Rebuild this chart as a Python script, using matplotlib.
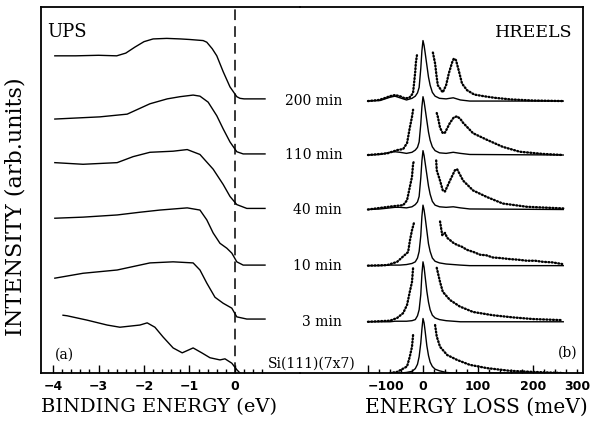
import numpy as np
import matplotlib
matplotlib.use('Agg')
import matplotlib.pyplot as plt

nan = np.nan

# ---- UPS (binding energy in eV, intensity above each curve's baseline) ----
ups_labels = ['clean', '3 min', '10 min', '40 min', '110 min', '200 min']
ups_offsets = [0.0, 0.99, 1.98, 3.02, 4.02, 5.03]

ups_clean_x = [-3.78, -3.69, -3.25, -2.81, -2.53, -2.09, -1.93, -1.76, -1.58, -1.36, -1.16,
               -0.92, -0.73, -0.55, -0.33, -0.22, -0.07, 0.04, 0.11]
ups_clean_y = [1.06, 1.05, 0.97, 0.88, 0.84, 0.88, 0.92, 0.84, 0.66, 0.46, 0.37,
               0.46, 0.37, 0.28, 0.24, 0.26, 0.18, 0.06, 0.0]
ups_3_x = [-3.96, -3.34, -2.59, -1.87, -1.36, -0.92, -0.77, -0.62, -0.44, -0.26, -0.07, 0.04, 0.26, 0.66]
ups_3_y = [0.75, 0.84, 0.90, 1.03, 1.05, 1.03, 0.90, 0.66, 0.40, 0.29, 0.20, 0.04, 0.0, 0.0]
ups_10_x = [-3.96, -3.34, -2.59, -2.09, -1.65, -1.05, -0.77, -0.62, -0.48, -0.33, -0.18, -0.07, 0.04, 0.18, 0.66]
ups_10_y = [0.86, 0.88, 0.92, 0.97, 1.01, 1.05, 1.01, 0.83, 0.59, 0.40, 0.31, 0.22, 0.06, 0.0, 0.0]
ups_40_x = [-3.96, -3.34, -2.59, -2.24, -1.87, -1.36, -1.05, -0.77, -0.48, -0.26, -0.11, 0.04, 0.26, 0.66]
ups_40_y = [0.84, 0.81, 0.84, 0.95, 1.03, 1.05, 1.08, 0.99, 0.72, 0.44, 0.22, 0.07, 0.0, 0.0]
ups_110_x = [-3.96, -2.97, -2.37, -1.87, -1.49, -1.21, -0.92, -0.77, -0.59, -0.40, -0.26, -0.11, 0.04, 0.18, 0.66]
ups_110_y = [0.64, 0.68, 0.73, 0.92, 1.01, 1.05, 1.08, 1.06, 0.95, 0.70, 0.46, 0.22, 0.04, 0.0, 0.0]
ups_200_x = [-3.96, -3.5, -3.0, -2.6, -2.4, -2.2, -2.0, -1.8, -1.5, -1.2, -1.0, -0.7, -0.62,
             -0.5, -0.4, -0.26, -0.11, 0.04, 0.11, 0.2, 0.66]
ups_200_y = [0.79, 0.79, 0.80, 0.79, 0.84, 0.95, 1.05, 1.10, 1.11, 1.10, 1.09, 1.07, 1.04,
             0.92, 0.79, 0.50, 0.22, 0.04, 0.01, 0.0, 0.0]

# ---- HREELS (energy loss in meV) ----
hr_offsets = [0.0, 0.94, 1.97, 3.0, 4.0, 4.99]

# elastic peak, solid lines
solid_x = [-100, -78, -60, -51, -42, -30, -20, -14, -10, -7, -4, -2, 0, 2, 4, 7, 10, 13, 17, 22,
           30, 42, 55, 68, 85, 255]
solid_3 = [0, 0, 0.0, 0.01, 0.01, 0.01, 0.02, 0.04, 0.11, 0.22, 0.50, 0.87, 1.10, 1.00, 0.82, 0.56,
           0.36, 0.22, 0.12, 0.07, 0.04, 0.02, 0.01, 0.0, 0.0, 0.0]
solid_10 = [0, 0, 0.01, 0.01, 0.01, 0.02, 0.04, 0.07, 0.14, 0.26, 0.55, 0.90, 1.11, 1.02, 0.88, 0.64,
            0.40, 0.26, 0.14, 0.08, 0.05, 0.03, 0.02, 0.01, 0.0, 0.0]
solid_40 = [0, 0.01, 0.03, 0.04, 0.04, 0.03, 0.05, 0.09, 0.14, 0.24, 0.58, 0.89, 1.08, 0.99, 0.85, 0.64,
            0.43, 0.28, 0.15, 0.08, 0.05, 0.04, 0.05, 0.03, 0.01, 0.0]
solid_110 = [0, 0.01, 0.05, 0.06, 0.05, 0.03, 0.05, 0.09, 0.14, 0.24, 0.57, 0.88, 1.07, 0.98, 0.84, 0.63,
             0.42, 0.27, 0.15, 0.08, 0.04, 0.03, 0.05, 0.03, 0.01, 0.0]
solid_200 = [0, 0.01, 0.07, 0.09, 0.06, 0.02, 0.05, 0.09, 0.15, 0.25, 0.60, 0.92, 1.11, 1.02, 0.88, 0.66,
             0.44, 0.29, 0.16, 0.09, 0.05, 0.04, 0.06, 0.02, 0.0, 0.0]
solid_clean_x = [-60, -42, -30, -20, -14, -10, -7, -4, -2, 0, 2, 4, 7, 10, 13, 17, 22, 30, 42, 55, 85, 255]
solid_clean = [0, 0, 0.01, 0.03, 0.08, 0.16, 0.30, 0.55, 0.80, 1.00, 0.92, 0.76, 0.50, 0.32, 0.20,
               0.12, 0.07, 0.04, 0.01, 0, 0, 0]

# magnified spectra, dotted (nan = off the top, not drawn)
dot_clean_x = [-60, -47, -29, -24, -20, -18, nan, 22, 25, 31, 44, 62, 85, 116, 158, 200, 253]
dot_clean_y = [0, 0.02, 0.12, 0.30, 0.48, 0.70, nan, 0.88, 0.67, 0.48, 0.33, 0.24, 0.15, 0.09, 0.04, 0.02, 0]
dot_3_x = [-100, -60, -47, -36, -29, -24, -20, -18, nan, 25, 31, 36, 49, 67, 91, 127, 164, 200, 253]
dot_3_y = [0, 0.02, 0.07, 0.16, 0.31, 0.55, 0.73, 0.99, nan, 0.99, 0.73, 0.55, 0.40, 0.28, 0.18, 0.12,
           0.08, 0.05, 0.03]
dot_10_x = [-100, -65, -47, -36, -27, -24, -20, -16, nan, 31, 35, 40, 44, 49, 55, 62, 70, 80, 92, 104,
            115, 127, 140, 158, 172, 189, 204, 218, 235, 253]
dot_10_y = [0, 0.01, 0.07, 0.17, 0.25, 0.45, 0.65, 0.80, nan, 0.81, 0.56, 0.60, 0.51, 0.47, 0.42, 0.38,
            0.35, 0.29, 0.25, 0.20, 0.19, 0.15, 0.14, 0.12, 0.11, 0.09, 0.09, 0.07, 0.06, 0.03]
dot_40_x = [-100, -55, -36, -29, -24, -20, -18, -16, nan, 24, 25, 31, 36, 40, 49, 58, 62, 73, 91, 116,
            145, 189, 255]
dot_40_y = [0, 0.06, 0.08, 0.17, 0.41, 0.60, 0.84, 0.90, nan, 0.90, 0.72, 0.53, 0.35, 0.33, 0.53, 0.72,
            0.74, 0.53, 0.35, 0.23, 0.11, 0.05, 0.02]
dot_110_x = [-100, -65, -47, -36, -29, -27, -24, -20, -18, nan, 25, 27, 31, 36, 40, 49, 56, 62, 68, 73,
             91, 116, 145, 176, 218, 255]
dot_110_y = [0, 0.03, 0.09, 0.11, 0.22, 0.33, 0.50, 0.70, 0.83, nan, 0.77, 0.70, 0.50, 0.40, 0.41, 0.59,
             0.69, 0.71, 0.66, 0.59, 0.40, 0.28, 0.15, 0.06, 0.02, 0]
dot_200_x = [-100, -80, -68, -60, -51, -42, -33, -25, -20, -18, -16, -14, -13, -11, nan, 18, 22, 25, 27,
             33, 36, 42, 47, 53, 56, 60, 65, 71, 80, 93, 110, 130, 160, 200, 255]
dot_200_y = [0, 0.02, 0.06, 0.09, 0.11, 0.09, 0.05, 0.06, 0.12, 0.16, 0.35, 0.55, 0.70, 0.84, nan, 0.89,
             0.69, 0.43, 0.29, 0.20, 0.16, 0.29, 0.51, 0.71, 0.78, 0.75, 0.56, 0.32, 0.20, 0.12, 0.09,
             0.06, 0.03, 0.01, 0]

serif = 'DejaVu Serif'

fig = plt.figure(figsize=(5.91, 4.24), dpi=100)
ax1 = fig.add_axes([41 / 591, 51 / 424, 259 / 591, 366 / 424])
ax2 = fig.add_axes([300 / 591, 51 / 424, 283 / 591, 366 / 424])
# no white axes backgrounds, so text can run from one panel into the other
ax1.patch.set_visible(False)
ax2.patch.set_visible(False)

# UPS panel
ups_x = [ups_clean_x, ups_3_x, ups_10_x, ups_40_x, ups_110_x, ups_200_x]
ups_y = [ups_clean_y, ups_3_y, ups_10_y, ups_40_y, ups_110_y, ups_200_y]
for xs, ys, off in zip(ups_x, ups_y, ups_offsets):
    ax1.plot(xs, np.array(ys) + off, color='black', lw=1.0)
ax1.axvline(0, color='black', lw=1.1, ls=(0, (7, 4)))
ax1.set_xlim(-4.264, 1.429)
ax1.set_ylim(0, 6.716)
ax1.spines['right'].set_visible(False)
ax1.set_xticks([-4, -3, -2, -1, 0])
ax1.set_xticks(np.arange(-4, 0.61, 0.2), minor=True)
ax1.text(-4.12, 6.25, 'UPS', family=serif, fontsize=13, va='center')
ax1.text(-3.96, 0.33, '(a)', family=serif, fontsize=10, va='center')
ax1.text(0.72, 0.18, 'Si(111)(7x7)', family=serif, fontsize=10, va='center', zorder=5)

# HREELS panel
solids = [solid_clean, solid_3, solid_10, solid_40, solid_110, solid_200]
dots_x = [dot_clean_x, dot_3_x, dot_10_x, dot_40_x, dot_110_x, dot_200_x]
dots_y = [dot_clean_y, dot_3_y, dot_10_y, dot_40_y, dot_110_y, dot_200_y]
for i in range(6):
    off = hr_offsets[i]
    sx = solid_clean_x if i == 0 else solid_x
    ax2.plot(sx, np.array(solids[i]) + off, color='black', lw=1.0)
    ax2.plot(dots_x[i], np.array(dots_y[i]) + off, color='black', lw=1.7,
             ls=(0, (0.4, 1.0)), dash_capstyle='round')
    if i > 0:
        ax2.text(-147, off, ups_labels[i], family=serif, fontsize=10, ha='right', va='center')
ax2.set_xlim(-223.6, 290.9)
ax2.set_ylim(0, 6.716)
ax2.spines['left'].set_visible(False)
ax2.set_xticks([-100, 0, 100, 200], labels=['\u2212100', '0', '100', '200'])
ax2.get_xticklabels()[0].set_horizontalalignment('left')
ax2.set_xticks(np.arange(-100, 281, 20), minor=True)
# the 300 label sits right at the edge of the figure
fig.text(590 / 591, 37 / 424, '300', fontsize=9, fontweight='bold', ha='right', va='center')
ax2.text(271, 6.25, 'HREELS', family=serif, fontsize=12.5, ha='right', va='center')
ax2.text(280, 0.37, '(b)', family=serif, fontsize=10, ha='right', va='center')

for ax in (ax1, ax2):
    ax.set_yticks([])
    ax.tick_params(axis='x', which='major', direction='in', length=6, width=1, labelsize=9, pad=5)
    ax.tick_params(axis='x', which='minor', direction='in', length=3, width=1)
    for lab in ax.get_xticklabels():
        lab.set_fontweight('bold')
    for s in ax.spines.values():
        s.set_linewidth(1.3)

fig.text(159 / 591, 17 / 424, 'BINDING ENERGY (eV)', family=serif, fontsize=14, ha='center', va='center')
fig.text(476 / 591, 17 / 424, 'ENERGY LOSS (meV)', family=serif, fontsize=14.5, ha='center', va='center')
fig.text(16 / 591, 217 / 424, 'INTENSITY (arb.units)', family=serif, fontsize=16, rotation=90,
         ha='center', va='center')

fig.savefig('out.png', dpi=100)
